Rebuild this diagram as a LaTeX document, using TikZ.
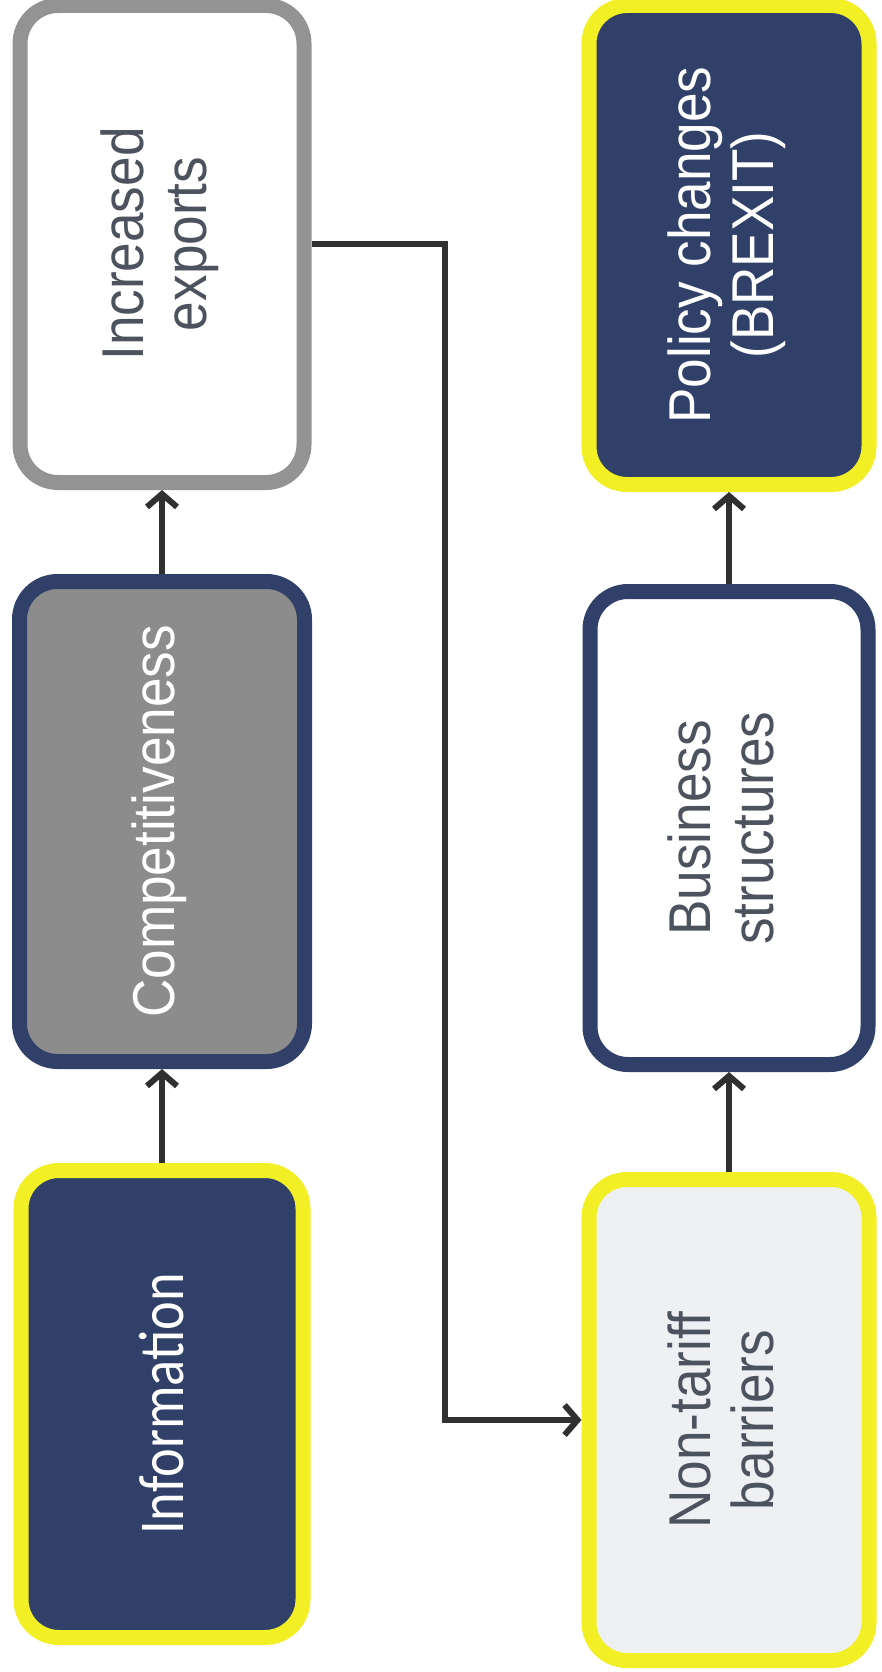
\documentclass[tikz,border=0pt]{standalone}
\usepackage{fontspec}
\setmainfont{Liberation Sans}[FakeStretch=0.9]
\newfontfamily\infofont{Carlito}[FakeStretch=0.85]
\usetikzlibrary{arrows.meta}
\definecolor{navy}{RGB}{48,64,104}
\definecolor{lemon}{RGB}{242,240,36}
\definecolor{gborder}{RGB}{147,147,147}
\definecolor{gfill}{RGB}{140,140,140}
\definecolor{lfill}{RGB}{238,240,244}
\definecolor{tgray}{RGB}{76,82,94}
\definecolor{linec}{RGB}{48,48,48}
\newcommand{\vtext}[1]{\rotatebox{90}{\fontsize{59}{63}\selectfont\begin{tabular}{@{}c@{}}#1\end{tabular}}}
\tikzset{
  box/.style={rectangle, rounded corners=38pt, line width=15pt, inner sep=0pt, align=center},
  conn/.style={draw=linec, line width=6pt, -{Straight Barb[length=13pt,width=30pt]}},
}
\begin{document}
\begin{tikzpicture}[x=1pt,y=-1pt]
\useasboundingbox (0,0) rectangle (881,1672);
% left column
\node[box, draw=gborder, fill=white, text=tgray, minimum width=284pt, minimum height=477pt] (ie) at (162,244) {\vtext{Increased\\exports}};
\node[box, draw=navy, fill=gfill, text=white, minimum width=285pt, minimum height=480pt] (cp) at (162,821.5) {\vtext{Competitiveness}};
\node[box, draw=lemon, fill=navy, text=white, minimum width=282pt, minimum height=467pt] (inf) at (162,1404) {\rotatebox{90}{\infofont\fontsize{64}{68}\selectfont Information}};
% right column
\node[box, draw=lemon, fill=navy, text=white, minimum width=280pt, minimum height=479pt] (pc) at (729,245) {\vtext{Policy changes\\(BREXIT)}};
\node[box, draw=navy, fill=white, text=tgray, minimum width=278pt, minimum height=473pt] (bs) at (729,828) {\vtext{Business\\structures}};
\node[box, draw=lemon, fill=lfill, text=tgray, minimum width=280pt, minimum height=481pt] (nt) at (729,1420) {\vtext{Non-tariff\\barriers}};
% connectors
\draw[conn] (inf.north) -- (cp.south);
\draw[conn] (cp.north) -- (ie.south);
\draw[conn] (nt.north) -- (bs.south);
\draw[conn] (bs.north) -- (pc.south);
\coordinate (turn) at (445,244);
\draw[conn] (ie.east) -- (turn) |- (nt.west);
\end{tikzpicture}
\end{document}
